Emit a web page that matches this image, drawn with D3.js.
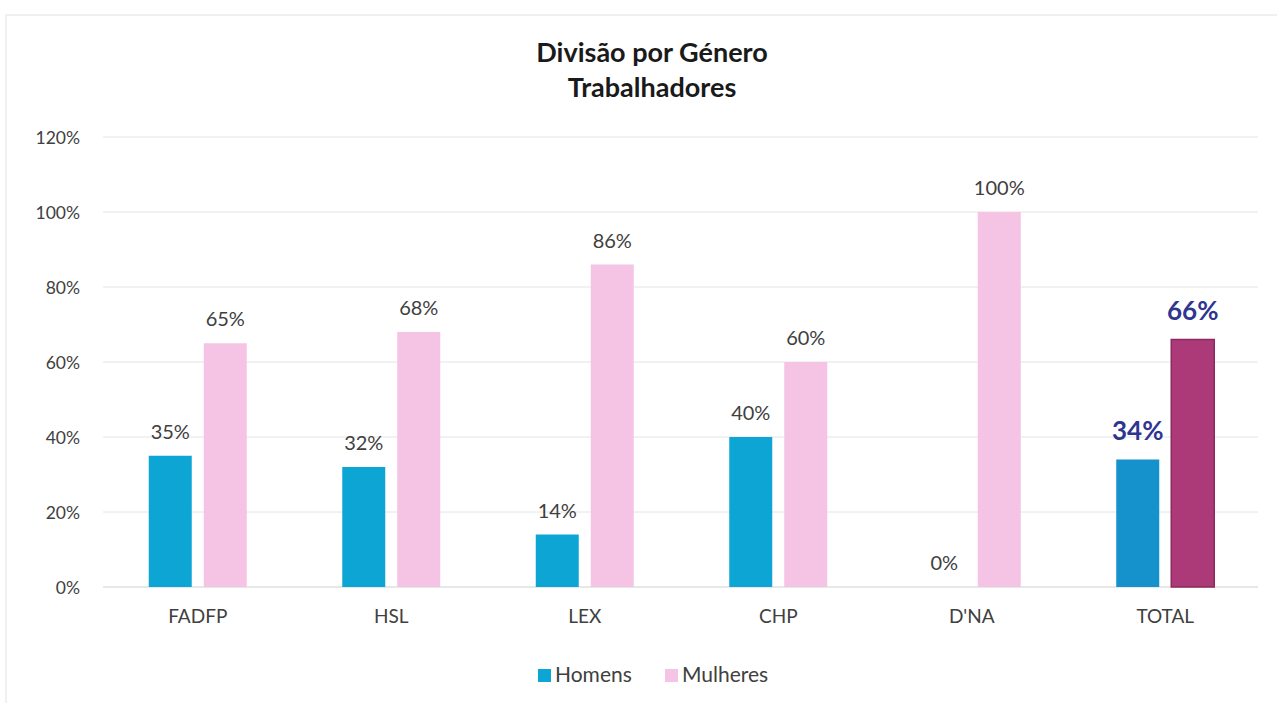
<!DOCTYPE html>
<html><head><meta charset="utf-8">
<script src="https://cdn.jsdelivr.net/npm/d3@7"></script>
<style>body{margin:0;background:#fff;font-family:Lato,"Open Sans",sans-serif;}</style>
</head><body>
<svg id="c" width="1277" height="703"></svg>
<script>
const categories = ["FADFP","HSL","LEX","CHP","D'NA","TOTAL"];
const homens = [0.35,0.32,0.14,0.40,0.00,0.34];
const mulheres = [0.65,0.68,0.86,0.60,1.00,0.66];
const yTicks = [0,0.2,0.4,0.6,0.8,1.0,1.2];
const seriesNames = ["Homens","Mulheres"];

const svg = d3.select("#c");
const m = {left:101, right:1262, top:137, bottom:587};

// faint frame
svg.append("rect").attr("x",6).attr("y",15).attr("width",1290).attr("height",700)
  .attr("fill","none").attr("stroke","#e6e6e6").attr("stroke-width",1.2);

const x = d3.scaleBand().domain(categories).range([m.left,m.right]).paddingInner(0).paddingOuter(0);
const y = d3.scaleLinear().domain([0,1.2]).range([m.bottom,m.top]);
const barW = 43, gap = 12;

// gridlines
svg.append("g").selectAll("line").data(yTicks).join("line")
  .attr("x1",103).attr("x2",1258)
  .attr("y1",d=>y(d)).attr("y2",d=>y(d))
  .attr("stroke",d=>d===0?"#d0d0d0":"#e4e4e4").attr("stroke-width",1);

// y axis labels
const yAxis = d3.axisLeft(y).tickValues(yTicks).tickFormat(d=>Math.round(d*100)+"%").tickSize(0).tickPadding(0);
const ga = svg.append("g").attr("transform","translate(80,0)").call(yAxis);
ga.select(".domain").remove();
ga.selectAll("text").attr("font-family","Lato,sans-serif").attr("font-size",17.5).attr("fill","#404040").attr("dy","0.35em");

// x axis labels
const xa = d3.axisBottom(x).tickSize(0).tickPadding(0);
const gx = svg.append("g").attr("transform","translate(0,623)").call(xa);
gx.select(".domain").remove();
gx.selectAll("text").attr("font-family","Lato,sans-serif").attr("font-size",19).attr("fill","#404040").attr("y",0).attr("dy","0");

const cx = c => x(c)+x.bandwidth()/2;
const isTot = c => c==="TOTAL";
const colH = c => isTot(c)?"#1592cc":"#0da5d3";
const colM = c => isTot(c)?"#ad3a78":"#f5c3e3";

const data = categories.map((c,i)=>({c,h:homens[i],m:mulheres[i]}));

// Homens bars
svg.append("g").selectAll("rect").data(data).join("rect")
  .attr("x",d=>cx(d.c)-gap/2-barW).attr("width",barW)
  .attr("y",d=>y(d.h)).attr("height",d=>y(0)-y(d.h))
  .attr("fill",d=>colH(d.c));
// Mulheres bars
svg.append("g").selectAll("rect").data(data).join("rect")
  .attr("x",d=>cx(d.c)+gap/2).attr("width",barW)
  .attr("y",d=>y(d.m)).attr("height",d=>y(0)-y(d.m))
  .attr("fill",d=>colM(d.c))
  .attr("stroke",d=>isTot(d.c)?"#8c2a5e":"none").attr("stroke-width",1.5);

// labels
const lab = (sel, key, off) => sel.selectAll("text").data(data).join("text")
  .attr("x",d=>cx(d.c)+off)
  .attr("y",d=>y(d[key])-(isTot(d.c)?20:17))
  .attr("text-anchor","middle")
  .attr("font-family","Lato,sans-serif")
  .attr("font-size",d=>isTot(d.c)?26:20)
  .attr("font-weight",d=>isTot(d.c)?"bold":"normal")
  .attr("fill",d=>isTot(d.c)?"#2f3591":"#404040")
  .text(d=>Math.round(d[key]*100)+"%");
lab(svg.append("g"),"h",-gap/2-barW/2);
lab(svg.append("g"),"m",gap/2+barW/2);

// title
svg.append("text").attr("x",652).attr("y",62).attr("text-anchor","middle")
  .attr("font-family","Lato,sans-serif").attr("font-weight","bold").attr("font-size",27).attr("fill","#1a1a1a")
  .text("Divisão por Género");
svg.append("text").attr("x",652).attr("y",97).attr("text-anchor","middle")
  .attr("font-family","Lato,sans-serif").attr("font-weight","bold").attr("font-size",27).attr("fill","#1a1a1a")
  .text("Trabalhadores");

// legend
const leg = [{n:seriesNames[0],c:"#0da5d3",x:538},{n:seriesNames[1],c:"#f5c3e3",x:665}];
const lg = svg.append("g").selectAll("g").data(leg).join("g").attr("transform",d=>`translate(${d.x},682)`);
lg.append("rect").attr("x",0).attr("y",-13).attr("width",13).attr("height",13).attr("fill",d=>d.c);
lg.append("text").attr("x",17).attr("y",0).attr("font-family","Lato,sans-serif")
  .attr("font-size",21).attr("fill","#404040").text(d=>d.n);
</script>
</body></html>
